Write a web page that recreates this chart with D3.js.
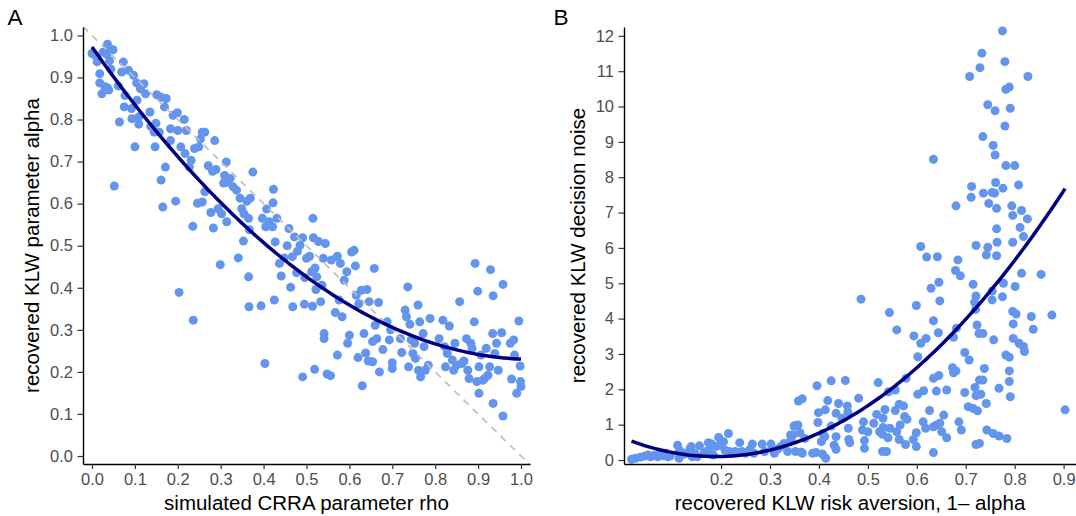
<!DOCTYPE html>
<html>
<head>
<meta charset="utf-8">
<script src="https://cdn.jsdelivr.net/npm/d3@7"></script>
<style>
  body { margin: 0; background: #fff; }
  svg { display: block; font-family: "Liberation Sans", Arial, sans-serif; }
  .tick text { fill: #4d4d4d; font-size: 16.5px; }
  .tick line { stroke: #333; stroke-width: 1.2; }
  .domain { stroke: #000; stroke-width: 1.4; }
</style>
</head>
<body>
<svg id="graph"></svg>
<script>
// Panel A: simulated CRRA rho vs recovered KLW alpha
const rhoSim = [0.0,0.012,0.018,0.018,0.023,0.008,0.026,0.036,0.04,0.049,0.035,0.041,0.03,0.036,0.039,0.044,0.052,0.064,0.061,0.069,
  0.073,0.075,0.077,0.085,0.092,0.093,0.097,0.1,0.104,0.105,0.109,0.109,0.113,0.121,0.125,0.135,0.137,0.145,0.147,0.149,
  0.151,0.161,0.173,0.169,0.157,0.161,0.165,0.171,0.183,0.183,0.189,0.195,0.199,0.2,0.203,0.207,0.215,0.217,0.22,0.227,
  0.231,0.235,0.236,0.239,0.246,0.249,0.253,0.257,0.263,0.257,0.263,0.271,0.277,0.281,0.283,0.286,0.289,0.294,0.299,0.302,
  0.307,0.309,0.313,0.314,0.317,0.322,0.329,0.337,0.341,0.345,0.349,0.353,0.354,0.361,0.365,0.365,0.366,0.367,0.369,0.375,
  0.394,0.397,0.403,0.405,0.407,0.413,0.421,0.422,0.423,0.425,0.427,0.431,0.437,0.441,0.448,0.455,0.459,0.463,0.468,0.467,
  0.472,0.477,0.479,0.485,0.491,0.491,0.495,0.496,0.5,0.507,0.512,0.514,0.515,0.516,0.519,0.52,0.522,0.524,0.528,0.533,
  0.536,0.539,0.541,0.541,0.544,0.548,0.556,0.558,0.567,0.572,0.572,0.576,0.579,0.583,0.588,0.594,0.596,0.6,0.605,0.611,
  0.614,0.616,0.62,0.622,0.628,0.63,0.634,0.638,0.641,0.646,0.644,0.654,0.654,0.658,0.66,0.664,0.668,0.67,0.678,0.688,
  0.693,0.696,0.7,0.7,0.722,0.719,0.73,0.733,0.736,0.738,0.741,0.744,0.748,0.752,0.754,0.76,0.761,0.764,0.766,0.772,
  0.774,0.777,0.784,0.788,0.809,0.818,0.822,0.824,0.828,0.833,0.84,0.843,0.846,0.85,0.857,0.862,0.867,0.873,0.876,0.879,
  0.883,0.886,0.891,0.893,0.897,0.899,0.902,0.902,0.907,0.911,0.915,0.919,0.923,0.927,0.929,0.934,0.935,0.935,0.939,0.943,
  0.947,0.955,0.958,0.958,0.975,0.978,0.983,0.985,0.99,0.995,0.998,0.999,1.0];
const alphaRec = [0.957,0.937,0.909,0.887,0.861,0.952,0.96,0.979,0.97,0.966,0.955,0.94,0.878,0.875,0.87,0.92,0.642,0.794,0.88,0.913,
  0.937,0.83,0.857,0.917,0.826,0.802,0.905,0.735,0.887,0.846,0.789,0.806,0.873,0.885,0.861,0.818,0.784,0.77,0.735,0.791,
  0.859,0.853,0.85,0.83,0.77,0.656,0.592,0.687,0.778,0.75,0.81,0.606,0.816,0.774,0.389,0.735,0.8,0.719,0.774,0.687,
  0.703,0.546,0.323,0.731,0.601,0.735,0.754,0.77,0.77,0.604,0.628,0.69,0.579,0.677,0.542,0.75,0.681,0.588,0.455,0.576,
  0.649,0.667,0.699,0.557,0.651,0.66,0.64,0.632,0.471,0.613,0.588,0.511,0.576,0.606,0.565,0.426,0.355,0.538,0.613,0.675,
  0.357,0.565,0.22,0.545,0.587,0.557,0.545,0.602,0.634,0.371,0.509,0.565,0.458,0.428,0.471,0.5,0.541,0.401,0.355,0.474,
  0.521,0.436,0.487,0.501,0.519,0.188,0.361,0.424,0.47,0.475,0.438,0.356,0.565,0.519,0.206,0.447,0.396,0.426,0.51,0.367,
  0.406,0.47,0.291,0.279,0.505,0.195,0.191,0.466,0.341,0.24,0.475,0.371,0.458,0.331,0.418,0.438,0.268,0.287,0.485,0.489,
  0.452,0.382,0.234,0.362,0.394,0.167,0.291,0.245,0.396,0.367,0.226,0.272,0.224,0.446,0.311,0.279,0.365,0.2,0.253,0.319,
  0.276,0.3,0.208,0.222,0.246,0.279,0.347,0.331,0.402,0.212,0.313,0.276,0.244,0.268,0.232,0.359,0.204,0.319,0.188,0.291,
  0.26,0.204,0.216,0.327,0.279,0.323,0.26,0.212,0.244,0.309,0.228,0.204,0.268,0.216,0.367,0.22,0.226,0.279,0.204,0.184,
  0.268,0.256,0.319,0.458,0.177,0.392,0.212,0.149,0.24,0.18,0.184,0.256,0.192,0.212,0.443,0.291,0.381,0.125,0.244,0.268,
  0.204,0.293,0.408,0.095,0.268,0.183,0.276,0.24,0.149,0.321,0.214,0.177,0.165];

// Panel B: recovered risk aversion (1 - alpha) vs recovered decision noise
const riskAversion = [0.775,0.733,0.78,0.729,0.708,0.827,0.782,0.789,0.745,0.76,0.791,0.78,0.735,0.756,0.76,0.634,0.782,0.8,0.712,0.761,
  0.776,0.808,0.736,0.754,0.759,0.711,0.747,0.794,0.68,0.763,0.796,0.814,0.826,0.811,0.763,0.818,0.721,0.608,0.745,0.764,
  0.796,0.62,0.642,0.742,0.763,0.684,0.679,0.689,0.854,0.814,0.777,0.645,0.715,0.801,0.629,0.754,0.721,0.775,0.486,0.647,
  0.718,0.754,0.72,0.599,0.544,0.796,0.803,0.876,0.834,0.634,0.723,0.797,0.559,0.838,0.644,0.727,0.735,0.594,0.675,0.681,
  0.619,0.757,0.797,0.608,0.809,0.818,0.82,0.698,0.602,0.782,0.789,0.707,0.738,0.673,0.675,0.68,0.789,0.578,0.634,0.645,
  0.728,0.735,0.521,0.789,0.425,0.454,0.396,0.556,0.542,0.614,0.64,0.661,0.719,0.768,0.698,0.602,0.721,0.731,0.791,0.481,
  0.358,0.366,0.418,0.44,0.564,0.573,0.742,0.458,0.705,0.715,0.724,0.903,0.413,0.556,0.435,0.626,0.535,0.459,0.518,0.655,
  0.447,0.531,0.575,0.58,0.613,0.686,0.398,0.491,0.566,0.64,0.647,0.349,0.357,0.425,0.512,0.46,0.531,0.618,0.634,0.691,
  0.743,0.756,0.768,0.784,0.489,0.5,0.524,0.545,0.559,0.599,0.651,0.361,0.342,0.408,0.435,0.493,0.53,0.541,0.564,0.593,
  0.661,0.461,0.463,0.577,0.599,0.721,0.728,0.493,0.431,0.435,0.53,0.538,0.634,0.414,0.387,0.394,0.364,
  0.017,0.025,0.035,0.044,0.051,0.056,0.063,0.07,0.075,0.08,0.087,0.091,0.096,0.111,0.115,0.114,0.119,0.125,0.136,0.139,
  0.141,0.146,0.151,0.156,0.165,0.17,0.174,0.177,0.181,0.184,0.19,0.195,0.198,0.205,0.208,0.215,0.217,0.222,0.229,0.238,
  0.243,0.25,0.259,0.264,0.267,0.284,0.289,0.302,0.309,0.316,0.322,0.329,0.336,0.343,0.347,0.35,0.352,0.366,0.371,0.399,
  0.407,0.412,0.405];
const decisionNoise = [12.14,11.51,11.27,11.1,10.85,10.85,10.49,10.55,10.05,9.88,9.95,9.45,9.15,8.9,8.63,8.51,8.33,8.33,7.74,7.85,
  7.69,7.78,7.55,7.57,7.55,7.43,7.26,7.19,7.19,7.12,6.92,7.06,6.82,6.58,6.54,6.32,6.07,6.04,6.02,6.16,
  6.16,5.74,5.75,5.8,5.78,5.66,5.36,5.21,5.25,5.28,5.0,5.03,4.97,4.91,4.86,4.78,4.64,4.62,4.55,4.5,
  4.46,4.53,4.26,4.37,4.17,4.2,4.13,4.1,4.06,3.94,3.82,3.85,3.68,3.7,3.6,3.58,3.58,3.51,3.47,3.73,
  3.44,3.4,3.44,3.3,3.3,3.21,3.07,3.04,2.92,2.97,2.91,2.83,2.59,2.61,2.47,2.52,2.52,2.31,2.31,2.39,
  2.26,2.26,2.19,2.22,2.24,2.25,2.1,1.98,1.93,1.96,1.95,1.98,2.05,2.03,1.91,1.86,1.82,1.86,1.79,1.75,
  1.67,1.73,1.68,1.6,1.58,1.53,1.6,1.53,1.51,1.46,1.39,1.42,1.42,1.4,1.32,1.4,1.43,1.35,1.29,1.27,
  1.18,1.18,1.23,1.15,1.08,1.08,1.06,1.08,0.99,0.99,1.04,0.96,0.99,0.96,1.04,0.9,0.92,0.9,0.94,0.85,
  0.85,0.75,0.68,0.61,0.85,0.8,0.8,0.9,0.8,0.77,0.8,0.77,0.71,0.75,0.66,0.55,0.73,0.63,0.58,0.58,
  0.63,0.58,0.49,0.44,0.38,0.44,0.47,0.33,0.42,0.3,0.24,0.24,0.21,0.05,0.19,0.21,0.22,
  0.02,0.05,0.08,0.11,0.14,0.09,0.13,0.09,0.17,0.12,0.19,0.09,0.11,0.42,0.28,0.05,0.21,0.17,0.31,0.38,
  0.09,0.19,0.09,0.4,0.19,0.24,0.49,0.33,0.45,0.14,0.38,0.64,0.42,0.52,0.28,0.75,0.24,0.19,0.24,0.49,
  0.24,0.19,0.3,0.45,0.19,0.45,0.24,0.45,0.19,0.31,0.38,0.47,0.24,0.57,0.71,0.96,0.24,0.19,0.61,1.34,
  0.17,0.66,0.52];

const ticksA = [0, 0.1, 0.2, 0.3, 0.4, 0.5, 0.6, 0.7, 0.8, 0.9, 1.0];
const ticksBx = [0.2, 0.3, 0.4, 0.5, 0.6, 0.7, 0.8, 0.9];
const ticksBy = [0, 1, 2, 3, 4, 5, 6, 7, 8, 9, 10, 11, 12];

const svgWidth = 1076, svgHeight = 516;
const pointColor = "#6495ed", fitColor = "#000080";

const svg = d3.select("svg#graph")
  .attr("width", svgWidth)
  .attr("height", svgHeight);

// quadratic least squares fit, y = a + b x + c x^2
function polyFit2(xs, ys) {
  let s = [0, 0, 0, 0, 0], t = [0, 0, 0];
  xs.forEach((x, i) => {
    let p = 1;
    for (let k = 0; k < 5; k++) { s[k] += p; if (k < 3) t[k] += p * ys[i]; p *= x; }
  });
  let m = [[s[0], s[1], s[2], t[0]], [s[1], s[2], s[3], t[1]], [s[2], s[3], s[4], t[2]]];
  for (let c = 0; c < 3; c++) {
    for (let r = c + 1; r < 3; r++) {
      let f = m[r][c] / m[c][c];
      for (let k = c; k < 4; k++) m[r][k] -= f * m[c][k];
    }
  }
  let coef = [0, 0, 0];
  for (let r = 2; r >= 0; r--) {
    let v = m[r][3];
    for (let k = r + 1; k < 3; k++) v -= m[r][k] * coef[k];
    coef[r] = v / m[r][r];
  }
  return coef;
}

function drawPanel(cfg) {
  const x = d3.scaleLinear().domain(cfg.xDomain).range(cfg.xRange);
  const y = d3.scaleLinear().domain(cfg.yDomain).range(cfg.yRange);
  const g = svg.append("g").classed("panel", true);

  g.append("clipPath").attr("id", "clip-" + cfg.id)
    .append("rect")
    .attr("x", cfg.xRange[0]).attr("y", cfg.yRange[1])
    .attr("width", cfg.xRange[1] - cfg.xRange[0])
    .attr("height", cfg.yRange[0] - cfg.yRange[1]);

  const data = cfg.xs.map((v, i) => [v, cfg.ys[i]]);

  g.append("g").classed("points", true)
    .selectAll("circle")
    .data(data)
    .enter()
    .append("circle")
    .attr("cx", d => x(d[0]))
    .attr("cy", d => y(d[1]))
    .attr("r", 4.5)
    .style("fill", pointColor);

  if (cfg.diagonal) {
    g.append("line")
      .attr("clip-path", "url(#clip-" + cfg.id + ")")
      .attr("x1", x(cfg.xDomain[0])).attr("y1", y(1 - cfg.xDomain[0]))
      .attr("x2", x(cfg.xDomain[1])).attr("y2", y(1 - cfg.xDomain[1]))
      .style("stroke", "#bebebe")
      .style("stroke-width", 1.7)
      .style("stroke-dasharray", "7,6");
  }

  const coef = polyFit2(cfg.xs, cfg.ys);
  const [x0, x1] = d3.extent(cfg.xs);
  const curve = d3.range(0, 101).map(i => {
    const v = x0 + (x1 - x0) * i / 100;
    return [v, coef[0] + coef[1] * v + coef[2] * v * v];
  });
  g.append("path")
    .datum(curve)
    .attr("d", d3.line().x(d => x(d[0])).y(d => y(d[1])))
    .style("fill", "none")
    .style("stroke", fitColor)
    .style("stroke-width", 3.5);

  g.append("g")
    .attr("transform", "translate(0," + cfg.yRange[0] + ")")
    .call(d3.axisBottom(x).tickValues(cfg.xTicks).tickFormat(d3.format(".1f"))
      .tickSize(5).tickPadding(4).tickSizeOuter(0));

  g.append("g")
    .attr("transform", "translate(" + cfg.xRange[0] + ",0)")
    .call(d3.axisLeft(y).tickValues(cfg.yTicks).tickFormat(cfg.yFormat)
      .tickSize(5.5).tickPadding(4.5).tickSizeOuter(0));

  g.selectAll(".tick text").attr("font-family", null).attr("font-size", null);

  g.append("text")
    .attr("x", (cfg.xRange[0] + cfg.xRange[1]) / 2)
    .attr("y", 510)
    .attr("text-anchor", "middle")
    .style("font-size", "20.5px")
    .text(cfg.xTitle);

  g.append("text")
    .attr("transform", "translate(" + cfg.yTitleX + "," + (cfg.yRange[0] + cfg.yRange[1]) / 2 + ") rotate(-90)")
    .attr("text-anchor", "middle")
    .style("font-size", "20.5px")
    .text(cfg.yTitle);

  g.append("text")
    .attr("x", cfg.tagX)
    .attr("y", 24.5)
    .style("font-size", "22.5px")
    .text(cfg.tag);
}

drawPanel({
  id: "a", tag: "A", tagX: 7.5,
  xs: rhoSim, ys: alphaRec,
  xDomain: [-0.021, 1.021], xRange: [83, 530],
  yDomain: [-0.019, 1.02], yRange: [464, 27],
  xTicks: ticksA, yTicks: ticksA, yFormat: d3.format(".1f"),
  diagonal: true,
  xTitle: "simulated CRRA parameter rho",
  yTitle: "recovered KLW parameter alpha",
  yTitleX: 39
});

drawPanel({
  id: "b", tag: "B", tagX: 553.5,
  xs: riskAversion, ys: decisionNoise,
  xDomain: [0.0016, 0.9253], xRange: [624, 1076],
  yDomain: [-0.113, 12.25], yRange: [464, 27],
  xTicks: ticksBx, yTicks: ticksBy, yFormat: d3.format("d"),
  diagonal: false,
  xTitle: "recovered KLW risk aversion, 1\u2013 alpha",
  yTitle: "recovered KLW decision noise",
  yTitleX: 585
});
</script>
</body>
</html>
